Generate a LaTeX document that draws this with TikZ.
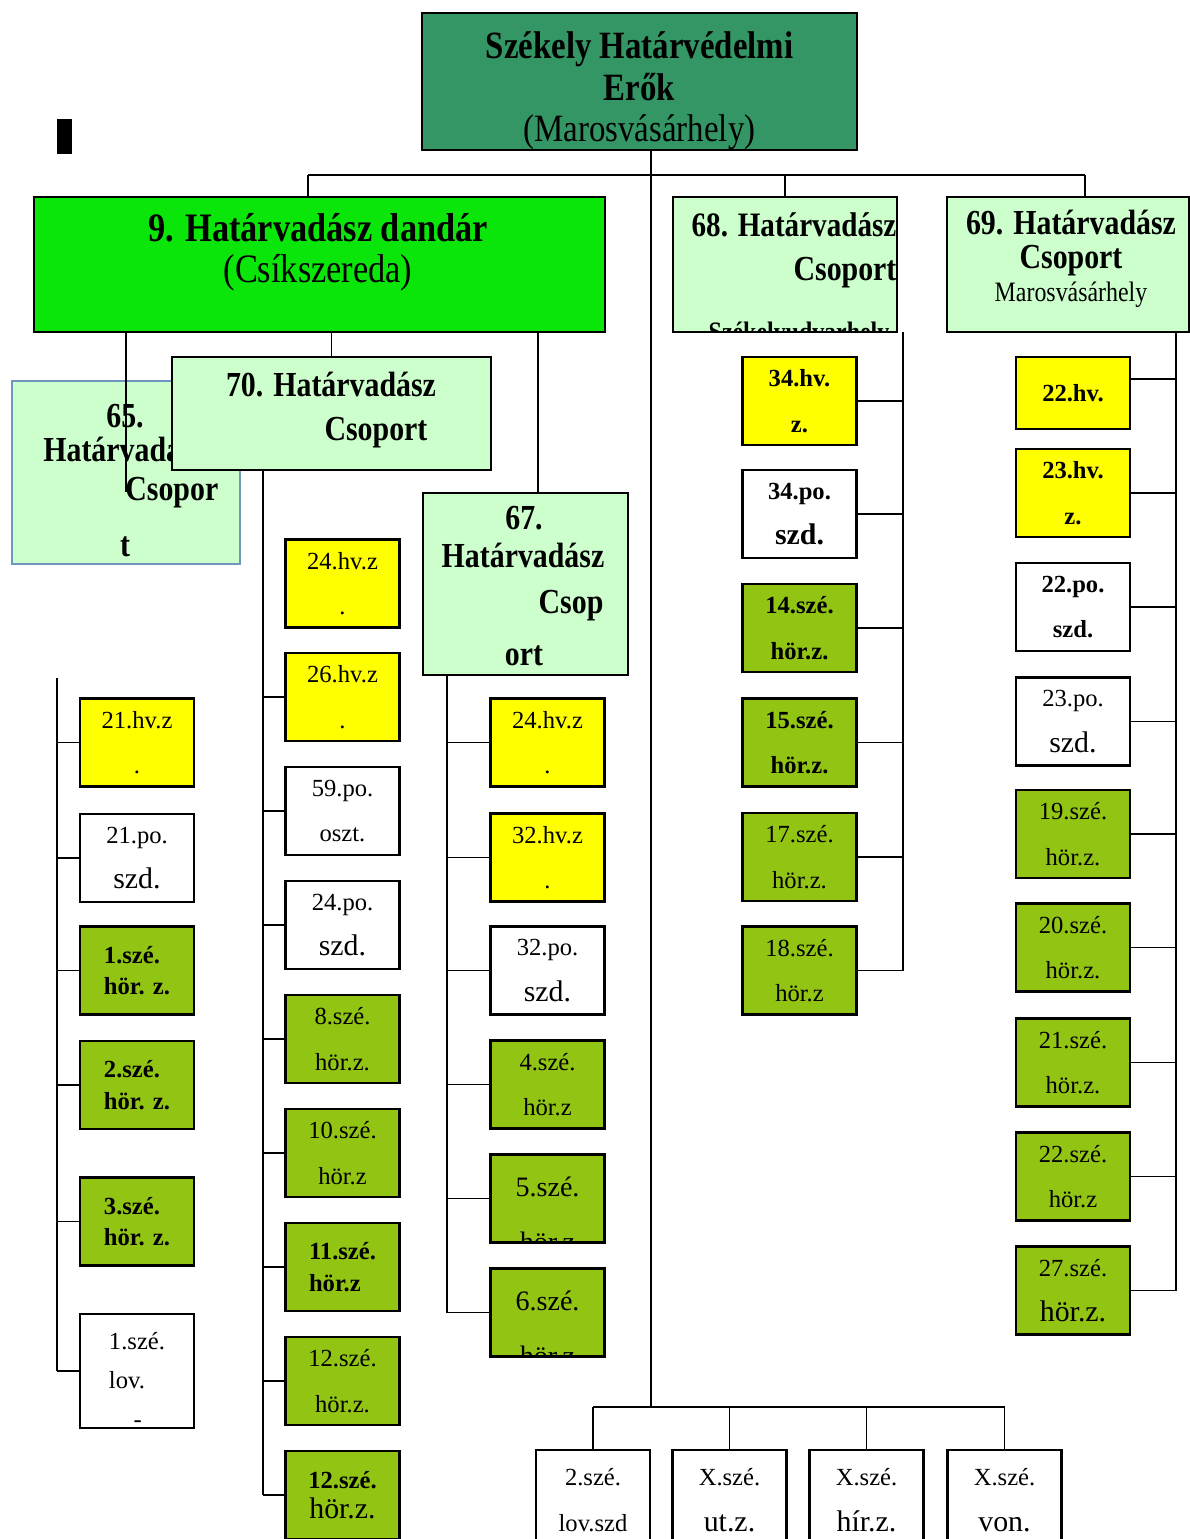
\documentclass[tikz,border=0pt]{standalone}
\usepackage{fontspec}
\setmainfont{Liberation Serif}
\newfontfamily\condfont{Liberation Serif}[FakeStretch=0.85]
\usetikzlibrary{positioning}
\definecolor{seagreen}{RGB}{51,150,100}
\definecolor{brightgreen}{RGB}{10,230,10}
\definecolor{palegreen}{RGB}{204,255,204}
\definecolor{olivegreen}{RGB}{146,196,20}
\definecolor{unityellow}{RGB}{255,255,0}
\definecolor{paleblue}{RGB}{110,150,190}
\newcommand{\lowline}[1]{{\fontsize{17}{26}\selectfont #1}}

\begin{document}
\begin{tikzpicture}[x=0.02cm, y=-0.02cm,
   conn/.style={line width=1.1pt},
   hq/.style={draw, line width=1.4pt, inner sep=0pt},
   htxt/.style={inner sep=0pt, font=\condfont\fontsize{20}{24}\selectfont\bfseries},
   unitbox/.style={draw, line width=1.4pt, inner sep=0pt, minimum width=2.28cm, minimum height=1.76cm, align=center, font=\fontsize{14}{26}\selectfont},
   hv/.style={unitbox, fill=unityellow},
   po/.style={unitbox, fill=white},
   sze/.style={unitbox, fill=olivegreen},
   strong/.style={font=\fontsize{14}{26}\selectfont\bfseries},
   tight/.style={align=left, font=\fontsize{14}{18}\selectfont\bfseries}]
   \useasboundingbox (0,0) rectangle (1190,1539);
   \fill (57,119) rectangle (72,154);
   \node[hq, fill=seagreen, minimum width=8.7cm, minimum height=2.74cm] (sz) at (639.5,81.5) {};
   \node[htxt, align=center, font=\condfont\fontsize{22}{23.5}\selectfont\bfseries] (szt) at (639.5,91) {Székely Határvédelmi\\Erők\\{\mdseries (Marosvásárhely)}};
   \node[hq, fill=brightgreen, minimum width=11.42cm, minimum height=2.7cm] (dandar) at (319.5,264.5) {};
   \node[htxt, align=center, font=\condfont\fontsize{23}{23.5}\selectfont\bfseries] (dandart) at (318,252) {9. Határvadász dandár\\{\mdseries (Csíkszereda)}};
   \node[hq, fill=palegreen, minimum width=4.48cm, minimum height=2.7cm] (c68) at (785,264.5) {};
   \node[htxt, font=\condfont\fontsize{19.5}{24}\selectfont\bfseries] (t68a) at (794,225) {68. Határvadász};
   \node[htxt] (t68b) at (845,273) {Csoport};
   \begin{scope}
   \clip ([shift={(0.03cm,0.03cm)}]c68.south west) rectangle ([shift={(-0.03cm,-0.03cm)}]c68.north east);
   \node[htxt, anchor=base, font=\condfont\fontsize{16}{18}\selectfont\bfseries] (t68c) at (799,341) {Székelyudvarhely};
   \end{scope}
   \node[hq, fill=palegreen, minimum width=4.84cm, minimum height=2.7cm] (c69) at (1068,264.5) {};
   \node[htxt, align=center, font=\condfont\fontsize{20}{19}\selectfont\bfseries] (t69) at (1071,259) {69. Határvadász\\Csoport\\{\mdseries\fontsize{16}{19}\selectfont Marosvásárhely}};
   \node[hq, draw=paleblue, fill=palegreen, minimum width=4.56cm, minimum height=3.66cm] (c65) at (126,472.5) {};
   \node[htxt] (t65a) at (125,416) {65.};
   \node[htxt, anchor=west] (t65b) at (43,449) {Határvadász};
   \node[htxt, anchor=west] (t65c) at (125,493) {Csopor};
   \node[htxt] (t65d) at (125,547) {t};
   \draw[conn] (c65 |- dandar.south) -- ([yshift=-0.39cm]c65.center);
   \node[hq, fill=palegreen, minimum width=6.38cm, minimum height=2.26cm] (c70) at (331.5,413.5) {};
   \node[htxt] (t70a) at (331,385) {70. Határvadász};
   \node[htxt] (t70b) at (376,433) {Csoport};
   \node[hq, fill=palegreen, minimum width=4.1cm, minimum height=3.64cm] (c67) at (525.5,584) {};
   \node[htxt] (t67a) at (524,518) {67.};
   \node[htxt] (t67b) at (523,555) {Határvadász};
   \node[htxt] (t67c) at (571,606) {Csop};
   \node[htxt] (t67d) at (524,656) {ort};

   \node[hv] (hv21) at (137,742.5) {21.hv.z\\.};
   \node[po] (po21) at (137,858) {21.po.\\\lowline{szd.}};
   \node[sze, tight] (sze1) at (137,970.5) {1.szé.\\hör. z.};
   \node[sze, tight] (sze2) at (137,1085) {2.szé.\\hör. z.};
   \node[sze, tight] (sze3) at (137,1221.5) {3.szé.\\hör. z.};
   \node[po, minimum height=2.28cm, align=left, font=\fontsize{14}{22}\selectfont] (lov1) at (137,1371) {\rule{0pt}{20pt}1.szé.\\lov.\\\hspace*{14pt}-};

   \node[hv] (hv24a) at (342.5,583.5) {24.hv.z\\.};
   \node[hv] (hv26) at (342.5,697) {26.hv.z\\.};
   \node[po] (po59) at (342.5,811) {59.po.\\oszt.};
   \node[po] (po24) at (342.5,925) {24.po.\\\lowline{szd.}};
   \node[sze] (sze8) at (342.5,1039) {8.szé.\\hör.z.};
   \node[sze] (sze10) at (342.5,1153) {10.szé.\\hör.z};
   \node[sze, tight] (sze11) at (342.5,1267) {11.szé.\\hör.z};
   \node[sze] (sze12a) at (342.5,1381) {12.szé.\\hör.z.};
   \node[sze, font=\fontsize{14}{17}\selectfont] (sze12b) at (342.5,1495) {\textbf{12.szé.}\\{\fontsize{17}{17}\selectfont hör.z.}};

   \node[hv] (hv24b) at (547.5,742.5) {24.hv.z\\.};
   \node[hv] (hv32) at (547.5,857.5) {32.hv.z\\.};
   \node[po] (po32) at (547.5,970.5) {32.po.\\\lowline{szd.}};
   \node[sze] (sze4) at (547.5,1084.5) {4.szé.\\hör.z};
   \node[sze] (sze5) at (547.5,1198.5) {};
   \begin{scope}
   \clip ([shift={(0.03cm,0.03cm)}]sze5.south west) rectangle ([shift={(-0.03cm,-0.03cm)}]sze5.north east);
   \node[align=center, anchor=north, inner sep=0pt, font=\fontsize{16}{31}\selectfont] (t5) at (547.5,1177) {5.szé.\\hör.z};
   \end{scope}
   \node[sze] (sze6) at (547.5,1312.5) {};
   \begin{scope}
   \clip ([shift={(0.03cm,0.03cm)}]sze6.south west) rectangle ([shift={(-0.03cm,-0.03cm)}]sze6.north east);
   \node[align=center, anchor=north, inner sep=0pt, font=\fontsize{16}{31}\selectfont] (t6) at (547.5,1291) {6.szé.\\hör.z};
   \end{scope}

   \node[hv, strong] (hv34) at (799.5,401) {34.hv.\\z.};
   \node[po, strong] (po34) at (799.5,514) {34.po.\\\lowline{szd.}};
   \node[sze, strong] (sze14) at (799.5,628) {14.szé.\\hör.z.};
   \node[sze, strong] (sze15) at (799.5,742.5) {15.szé.\\hör.z.};
   \node[sze] (sze17) at (799.5,857) {17.szé.\\hör.z.};
   \node[sze] (sze18) at (799.5,970.5) {18.szé.\\hör.z};

   \node[hv, strong, minimum height=1.44cm] (hv22) at (1073,393) {22.hv.};
   \node[hv, strong] (hv23) at (1073,493) {23.hv.\\z.};
   \node[po, strong] (po22) at (1073,607) {22.po.\\szd.};
   \node[po] (po23) at (1073,721.5) {23.po.\\\lowline{szd.}};
   \node[sze] (sze19) at (1073,834) {19.szé.\\hör.z.};
   \node[sze] (sze20) at (1073,947.5) {20.szé.\\hör.z.};
   \node[sze] (sze21) at (1073,1062.5) {21.szé.\\hör.z.};
   \node[sze] (sze22) at (1073,1176.5) {22.szé.\\hör.z};
   \node[sze] (sze27) at (1073,1290.5) {27.szé.\\\lowline{hör.z.}};

   \node[po, minimum height=2cm] (lov2) at (593,1500) {2.szé.\\lov.szd};
   \node[po, minimum height=2cm] (utx) at (729.5,1500) {X.szé.\\\lowline{ut.z.}};
   \node[po, minimum height=2cm] (hirx) at (866.5,1500) {X.szé.\\\lowline{hír.z.}};
   \node[po, minimum height=2cm] (vonx) at (1004.5,1500) {X.szé.\\\lowline{von.}};

   \coordinate (hub) at (651,175);
   \coordinate (foot) at (651,1407);
   \coordinate (bl) at (308,175);
   \coordinate (br) at (1085,175);
   \draw[conn] (sz.south -| hub) -- (foot);
   \draw[conn] (bl) -- (br);
   \draw[conn] (bl) -- (bl |- dandar.north);
   \draw[conn] (c68.north |- bl) -- (c68.north);
   \draw[conn] (br) -- (br |- c69.north);
   \draw[conn] (c70 |- dandar.south) -- (c70.north);
   \coordinate (d67) at ([xshift=0.25cm]c67.north);
   \draw[conn] (d67 |- dandar.south) -- (d67);

   \coordinate (k65) at (57,678);
   \draw[conn] (k65) -- (k65 |- lov1.west);
   \draw[conn] (k65 |- hv21.west) -- (hv21.west);
   \draw[conn] (k65 |- po21.west) -- (po21.west);
   \draw[conn] (k65 |- sze1.west) -- (sze1.west);
   \draw[conn] (k65 |- sze2.west) -- (sze2.west);
   \draw[conn] (k65 |- sze3.west) -- (sze3.west);
   \draw[conn] (k65 |- lov1.west) -- (lov1.west);

   \coordinate (k70) at (263,470);
   \draw[conn] (k70) -- (k70 |- sze12b.west);
   \draw[conn] (k70 |- hv26.west) -- (hv26.west);
   \draw[conn] (k70 |- po59.west) -- (po59.west);
   \draw[conn] (k70 |- po24.west) -- (po24.west);
   \draw[conn] (k70 |- sze8.west) -- (sze8.west);
   \draw[conn] (k70 |- sze10.west) -- (sze10.west);
   \draw[conn] (k70 |- sze11.west) -- (sze11.west);
   \draw[conn] (k70 |- sze12a.west) -- (sze12a.west);
   \draw[conn] (k70 |- sze12b.west) -- (sze12b.west);

   \coordinate (k67) at (447,675);
   \draw[conn] (k67) -- (k67 |- sze6.west);
   \draw[conn] (k67 |- hv24b.west) -- (hv24b.west);
   \draw[conn] (k67 |- hv32.west) -- (hv32.west);
   \draw[conn] (k67 |- po32.west) -- (po32.west);
   \draw[conn] (k67 |- sze4.west) -- (sze4.west);
   \draw[conn] (k67 |- sze5.west) -- (sze5.west);
   \draw[conn] (k67 |- sze6.west) -- (sze6.west);

   \coordinate (k68) at (903,332);
   \draw[conn] (k68) -- (k68 |- sze18.east);
   \draw[conn] (hv34.east) -- (k68 |- hv34.east);
   \draw[conn] (po34.east) -- (k68 |- po34.east);
   \draw[conn] (sze14.east) -- (k68 |- sze14.east);
   \draw[conn] (sze15.east) -- (k68 |- sze15.east);
   \draw[conn] (sze17.east) -- (k68 |- sze17.east);
   \draw[conn] (sze18.east) -- (k68 |- sze18.east);

   \coordinate (k69) at (1176,332);
   \coordinate (s22) at ([yshift=0.28cm]hv22.east);
   \draw[conn] (k69) -- (k69 |- sze27.east);
   \draw[conn] (s22) -- (k69 |- s22);
   \draw[conn] (hv23.east) -- (k69 |- hv23.east);
   \draw[conn] (po22.east) -- (k69 |- po22.east);
   \draw[conn] (po23.east) -- (k69 |- po23.east);
   \draw[conn] (sze19.east) -- (k69 |- sze19.east);
   \draw[conn] (sze20.east) -- (k69 |- sze20.east);
   \draw[conn] (sze21.east) -- (k69 |- sze21.east);
   \draw[conn] (sze22.east) -- (k69 |- sze22.east);
   \draw[conn] (sze27.east) -- (k69 |- sze27.east);

   \draw[conn] (foot -| lov2) -- (foot -| vonx);
   \draw[conn] (foot -| lov2) -- (lov2.north);
   \draw[conn] (foot -| utx) -- (utx.north);
   \draw[conn] (foot -| hirx) -- (hirx.north);
   \draw[conn] (foot -| vonx) -- (vonx.north);
\end{tikzpicture}
\end{document}
